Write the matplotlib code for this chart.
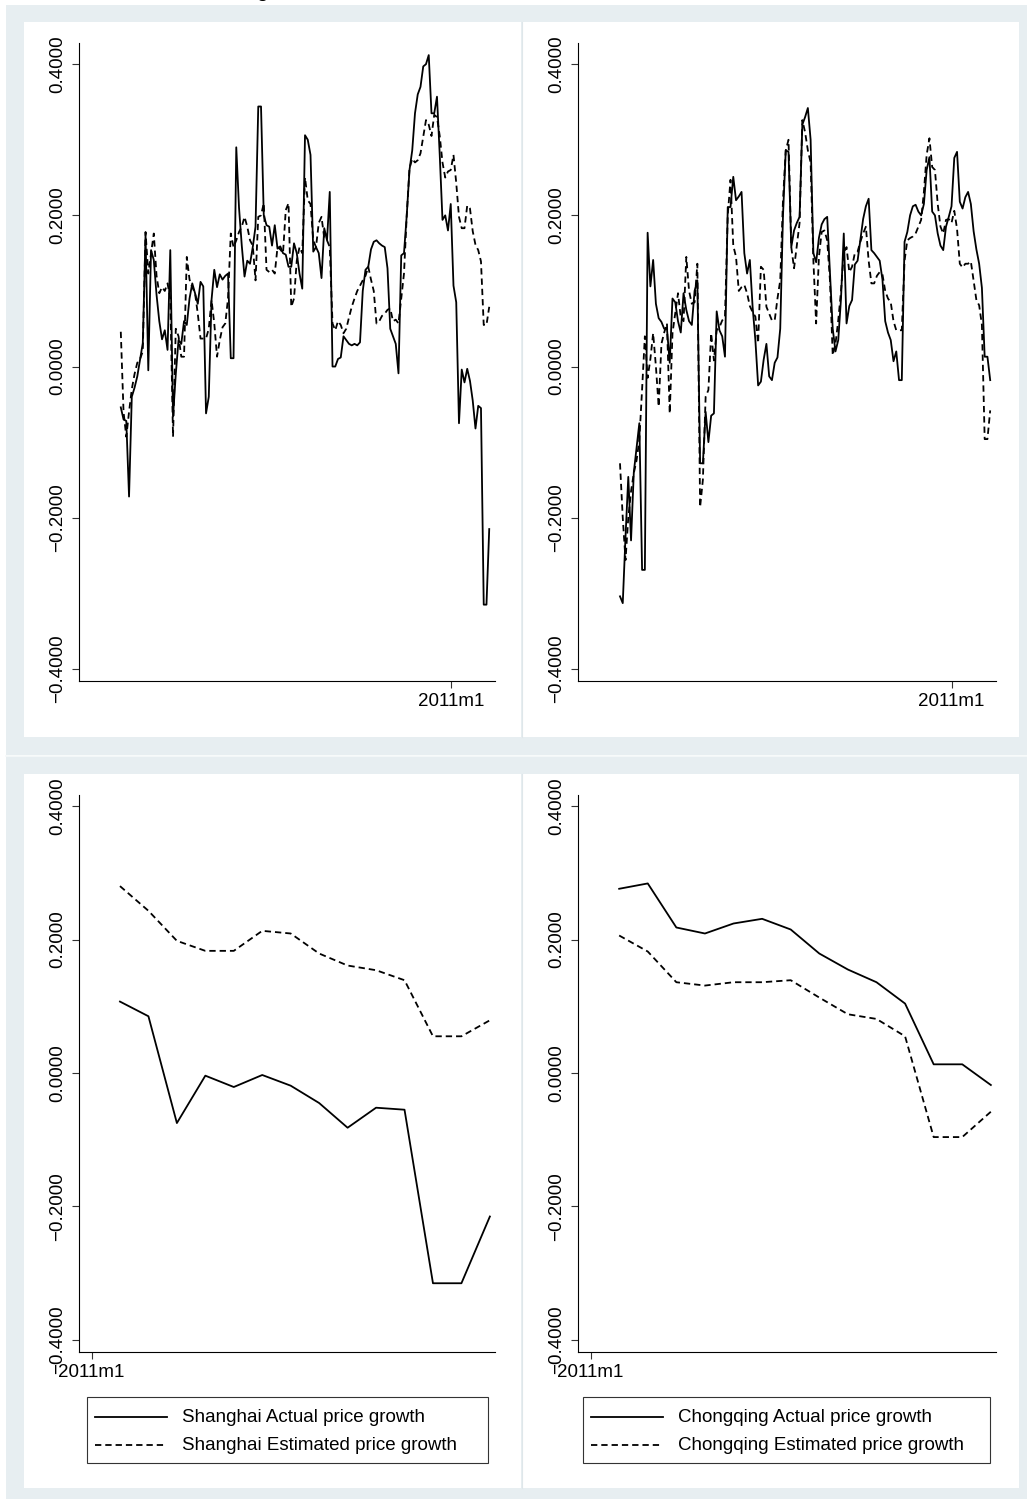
import matplotlib
matplotlib.use("Agg")
import matplotlib.pyplot as plt
from matplotlib.patches import Rectangle
from matplotlib.lines import Line2D

W, H = 1027, 1499
BG = "#e7eef1"
FS = 13.5
plt.rcParams["font.family"] = ["Liberation Sans", "DejaVu Sans"]

# monthly axis as Stata %tm values: 2001m1 .. 2012m3
START_M = 492
TICK_M = 612          # 2011m1
TICK_LABEL = "2011m1"
YTICKS = [-0.4, -0.2, 0.0, 0.2, 0.4]

sh_actual = [
    -0.054, -0.070, -0.072, -0.172, -0.040, -0.028, -0.013, 0.009, 0.031, 0.174,
    -0.005, 0.154, 0.141, 0.095, 0.060, 0.036, 0.048, 0.022, 0.154, -0.066,
    -0.010, 0.035, 0.030, 0.060, 0.055, 0.090, 0.110, 0.097, 0.083, 0.112,
    0.106, -0.062, -0.040, 0.088, 0.128, 0.105, 0.122, 0.115, 0.120, 0.123,
    0.011, 0.011, 0.290, 0.210, 0.160, 0.119, 0.140, 0.136, 0.158, 0.185,
    0.344, 0.344, 0.200, 0.187, 0.185, 0.160, 0.187, 0.156, 0.159, 0.150,
    0.148, 0.132, 0.132, 0.163, 0.150, 0.123, 0.103, 0.306, 0.300, 0.280,
    0.152, 0.158, 0.150, 0.117, 0.183, 0.167, 0.231, 0.000, 0.000, 0.010,
    0.012, 0.040, 0.035, 0.030, 0.028, 0.030, 0.028, 0.032, 0.100, 0.128,
    0.132, 0.155, 0.165, 0.167, 0.163, 0.160, 0.158, 0.130, 0.050, 0.040,
    0.030, -0.009, 0.147, 0.150, 0.200, 0.260, 0.286, 0.335, 0.360, 0.370,
    0.397, 0.400, 0.412, 0.335, 0.335, 0.357, 0.280, 0.194, 0.200, 0.180,
    0.215,
    0.107, 0.085, -0.075, -0.004, -0.021, -0.003, -0.019, -0.045, -0.082, -0.052,
    -0.055, -0.315, -0.315, -0.215,
]
sh_est = [
    0.046, -0.060, -0.093, -0.060, -0.030, -0.010, 0.005, 0.010, 0.020, 0.178,
    0.123, 0.150, 0.176, 0.120, 0.097, 0.105, 0.100, 0.110, 0.090, -0.093,
    0.050, 0.040, 0.013, 0.013, 0.145, 0.115, 0.105, 0.097, 0.070, 0.037,
    0.037, 0.037, 0.050, 0.088, 0.057, 0.013, 0.035, 0.052, 0.057, 0.090,
    0.176, 0.158, 0.167, 0.178, 0.185, 0.198, 0.185, 0.167, 0.160, 0.114,
    0.198, 0.200, 0.216, 0.128, 0.125, 0.128, 0.123, 0.158, 0.155, 0.150,
    0.207, 0.216, 0.079, 0.090, 0.140, 0.158, 0.150, 0.250, 0.220, 0.215,
    0.167, 0.158, 0.190, 0.198, 0.170, 0.167, 0.158, 0.057, 0.048, 0.060,
    0.055, 0.044, 0.050, 0.065, 0.079, 0.090, 0.100, 0.107, 0.114, 0.120,
    0.132, 0.115, 0.100, 0.057, 0.060, 0.067, 0.070, 0.075, 0.077, 0.060,
    0.062, 0.057, 0.090, 0.123, 0.200, 0.262, 0.275, 0.270, 0.273, 0.282,
    0.304, 0.326, 0.320, 0.305, 0.333, 0.330, 0.305, 0.270, 0.250, 0.258,
    0.260,
    0.280, 0.243, 0.198, 0.183, 0.183, 0.213, 0.209, 0.179, 0.161, 0.154,
    0.139, 0.055, 0.055, 0.079,
]
cq_actual = [
    -0.304, -0.313, -0.225, -0.146, -0.230, -0.140, -0.108, -0.075, -0.269, -0.269,
    0.177, 0.106, 0.141, 0.083, 0.064, 0.059, 0.050, 0.050, 0.005, 0.090,
    0.085, 0.060, 0.045, 0.097, 0.075, 0.060, 0.055, 0.100, 0.114, -0.128,
    -0.128, -0.060, -0.100, -0.065, -0.062, 0.073, 0.048, 0.040, 0.013, 0.211,
    0.211, 0.251, 0.220, 0.225, 0.231, 0.150, 0.123, 0.141, 0.079, 0.035,
    -0.025, -0.020, 0.009, 0.030, -0.013, -0.018, 0.005, 0.012, 0.050, 0.200,
    0.286, 0.284, 0.158, 0.180, 0.190, 0.198, 0.320, 0.330, 0.342, 0.300,
    0.150, 0.138, 0.170, 0.188, 0.195, 0.198, 0.123, 0.050, 0.020, 0.035,
    0.090, 0.176, 0.057, 0.080, 0.088, 0.135, 0.140, 0.167, 0.195, 0.212,
    0.222, 0.154, 0.150, 0.145, 0.140, 0.115, 0.060, 0.045, 0.035, 0.007,
    0.020, -0.018, -0.018, 0.165, 0.178, 0.200, 0.212, 0.214, 0.205, 0.200,
    0.215, 0.260, 0.277, 0.205, 0.200, 0.176, 0.160, 0.154, 0.185, 0.198,
    0.212,
    0.276, 0.284, 0.218, 0.209, 0.224, 0.231, 0.215, 0.179, 0.155, 0.136,
    0.104, 0.013, 0.013, -0.018,
]
cq_est = [
    -0.128, -0.200, -0.256, -0.200, -0.165, -0.141, -0.124, -0.097, -0.030, 0.040,
    -0.015, 0.010, 0.044, 0.000, -0.053, 0.030, 0.045, 0.057, -0.062, 0.044,
    0.070, 0.097, 0.065, 0.060, 0.145, 0.100, 0.083, 0.085, 0.136, -0.186,
    -0.150, -0.040, -0.031, 0.044, 0.008, 0.048, 0.052, 0.061, 0.066, 0.200,
    0.247, 0.160, 0.145, 0.100, 0.105, 0.108, 0.097, 0.080, 0.072, 0.066,
    0.031, 0.132, 0.128, 0.079, 0.070, 0.061, 0.061, 0.090, 0.114, 0.220,
    0.286, 0.300, 0.158, 0.130, 0.160, 0.190, 0.326, 0.310, 0.286, 0.270,
    0.140, 0.057, 0.145, 0.178, 0.180, 0.167, 0.114, 0.015, 0.030, 0.061,
    0.100, 0.150, 0.158, 0.125, 0.132, 0.150, 0.152, 0.165, 0.176, 0.185,
    0.140, 0.110, 0.110, 0.120, 0.125, 0.122, 0.100, 0.090, 0.085, 0.060,
    0.048, 0.048, 0.048, 0.140, 0.167, 0.170, 0.172, 0.176, 0.185, 0.194,
    0.231, 0.280, 0.302, 0.264, 0.260, 0.215, 0.185, 0.176, 0.194, 0.195,
    0.190,
    0.206, 0.182, 0.136, 0.131, 0.136, 0.136, 0.139, 0.113, 0.088, 0.081,
    0.055, -0.096, -0.096, -0.058,
]
N_ZOOM = 14   # months after 2011m1 shown in the lower panels

months = list(range(START_M, START_M + len(sh_actual)))
DASH = (0, (3.5, 2.2))


def fbox(x0, y0, x1, y1):
    """pixel box (top-left origin) -> figure fraction [l, b, w, h]"""
    return [x0 / W, 1 - y1 / H, (x1 - x0) / W, (y1 - y0) / H]


def frect(fig, x0, y0, x1, y1, fc, ec="none", lw=0, z=-10):
    l, b, w, h = fbox(x0, y0, x1, y1)
    fig.add_artist(Rectangle((l, b), w, h, transform=fig.transFigure,
                             fc=fc, ec=ec, lw=lw, zorder=z))


def fline(fig, xs, ys, **kw):
    fig.add_artist(Line2D([x / W for x in xs], [1 - y / H for y in ys],
                          transform=fig.transFigure, **kw))


def ylab(v):
    return f"{v:.4f}".replace("-", "\u2212")


def panel(fig, box, x, ya, ye, xlim, ylim):
    ax = fig.add_axes(fbox(*box))
    ax.patch.set_visible(False)
    ax.plot(x, ya, color="black", lw=1.3)
    ax.plot(x, ye, color="black", lw=1.3, ls=DASH)
    ax.set_xlim(*xlim)
    ax.set_ylim(*ylim)
    for s in ("top", "right"):
        ax.spines[s].set_visible(False)
    for s in ("left", "bottom"):
        ax.spines[s].set_linewidth(0.8)
        ax.spines[s].set_color("black")
    ax.set_yticks(YTICKS)
    ax.set_yticklabels([ylab(v) for v in YTICKS], rotation=90, va="center")
    ax.set_xticks([TICK_M])
    ax.set_xticklabels([TICK_LABEL])
    ax.tick_params(length=5, width=0.8, color="#333333", labelsize=FS)
    ax.tick_params(axis="y", pad=4.5)
    ax.tick_params(axis="x", pad=3.5)
    return ax


def legend(fig, x0, x1, city):
    frect(fig, x0, 1397, x1, 1463, fc="white", ec="#333333", lw=0.8, z=5)
    for yy, ls, lab in ((1417, "-", "Actual"), (1445, DASH, "Estimated")):
        fline(fig, [x0 + 8, x0 + 80], [yy, yy], color="black", lw=1.3, ls=ls,
              zorder=6)
        fig.text((x0 + 95) / W, 1 - yy / H, f"{city} {lab} price growth",
                 fontsize=FS, va="center", ha="left", zorder=6)


fig = plt.figure(figsize=(W / 100, H / 100), dpi=100, facecolor="white")

# graph regions (two combined graphs, each with a light-blue surround)
frect(fig, 6, 5, W, 755, BG)
frect(fig, 6, 756, W, H, BG)
for y0, y1 in ((22, 737), (774, 1488)):
    frect(fig, 24, y0, 521, y1, "white", z=-9)
    frect(fig, 522, y0, 1019, y1, "white", z=-9)
    fline(fig, [521.5, 521.5], [y0, y1], color="#dfe7ea", lw=0.8, zorder=-8)
fline(fig, [6, W], [755.5, 755.5], color="#f6f9fa", lw=1.2, zorder=-8)

# remnant of the title cut off at the top edge (only its descender is visible)
fig.text(262 / W, 1 + 3 / H, "g", fontsize=15, ha="center", va="baseline")

TOP_X = (476.8, 628.1)
TOP_Y = (-0.416, 0.428)
BOT_X = (611.56, 626.18)
BOT_Y = (-0.418, 0.4165)

panel(fig, (79, 43, 495, 681), months, sh_actual, sh_est, TOP_X, TOP_Y)
panel(fig, (578, 43, 996, 681), months, cq_actual, cq_est, TOP_X, TOP_Y)

zm = months[-N_ZOOM:]
panel(fig, (79, 795, 495, 1352), zm, sh_actual[-N_ZOOM:], sh_est[-N_ZOOM:],
      BOT_X, BOT_Y)
panel(fig, (578, 795, 996, 1352), zm, cq_actual[-N_ZOOM:], cq_est[-N_ZOOM:],
      BOT_X, BOT_Y)

legend(fig, 87, 488, "Shanghai")
legend(fig, 583, 990, "Chongqing")

fig.savefig("out.png", dpi=100, facecolor="white")
